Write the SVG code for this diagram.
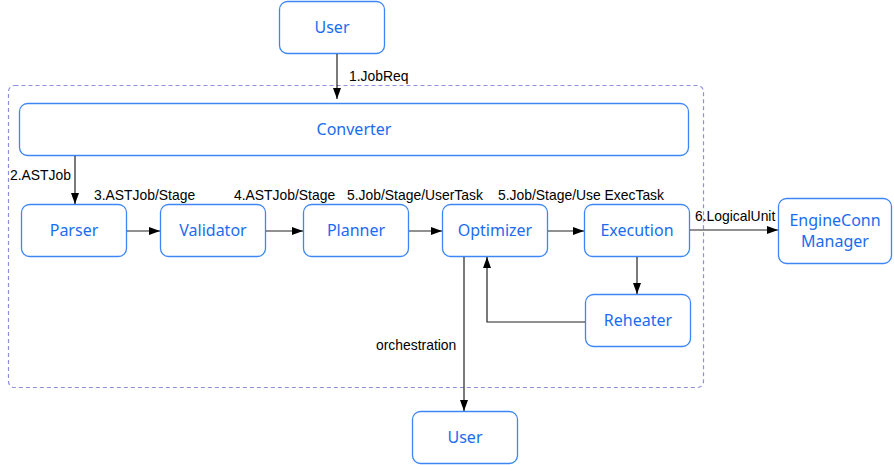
<svg xmlns="http://www.w3.org/2000/svg" width="894" height="465" viewBox="0 0 894 465">
<defs>
<style>
.node rect{fill:#fff;stroke:#3d86f5;stroke-width:1.3}
.node text{font-family:"Noto Sans","Liberation Sans",sans-serif;font-size:16px;fill:#1a6cf0;text-anchor:middle}
.lbl{font-family:"Liberation Sans",Arial,sans-serif;font-size:13.9px;fill:#000}
.edge{fill:none;stroke:#222;stroke-width:1.2;marker-end:url(#ah)}
</style>
<marker id="ah" viewBox="0 0 11 8" refX="11" refY="4" markerWidth="11" markerHeight="8" markerUnits="userSpaceOnUse" orient="auto">
<path d="M0,0 L11,4 L0,8 z" fill="#000"/>
</marker>
</defs>
<rect width="894" height="465" fill="#fff"/>
<rect id="container" x="8.5" y="85.5" width="695" height="302" rx="6" fill="none" stroke="#8f8fdc" stroke-width="1.2" stroke-dasharray="4,3"/>
<g id="nodes">
<g class="node" id="user-top"><rect x="279.5" y="1.5" width="105" height="52" rx="8"/><text x="332" y="33">User</text></g>
<g class="node" id="converter"><rect x="19.5" y="103.5" width="669" height="52" rx="8"/><text x="354" y="135">Converter</text></g>
<g class="node" id="parser"><rect x="21.5" y="204.5" width="105" height="52" rx="8"/><text x="74" y="236">Parser</text></g>
<g class="node" id="validator"><rect x="160.5" y="204.5" width="105" height="52" rx="8"/><text x="213" y="236">Validator</text></g>
<g class="node" id="planner"><rect x="303.5" y="204.5" width="105" height="52" rx="8"/><text x="356" y="236">Planner</text></g>
<g class="node" id="optimizer"><rect x="442.5" y="204.5" width="105" height="52" rx="8"/><text x="495" y="236">Optimizer</text></g>
<g class="node" id="execution"><rect x="584.5" y="204.5" width="105" height="52" rx="8"/><text x="637" y="236">Execution</text></g>
<g class="node" id="engineconn"><rect x="778.5" y="198.5" width="113" height="65" rx="8"/><text x="835" y="226">EngineConn</text><text x="835" y="247">Manager</text></g>
<g class="node" id="reheater"><rect x="585.5" y="294.5" width="105" height="52" rx="8"/><text x="638" y="326">Reheater</text></g>
<g class="node" id="user-bottom"><rect x="412.5" y="411.5" width="105" height="52" rx="8"/><text x="465" y="443">User</text></g>
</g>
<g id="connectors">
<path class="edge" d="M337,54 V99"/>
<path class="edge" d="M75,156 V204"/>
<path class="edge" d="M127,231 H160"/>
<path class="edge" d="M266,231 H303"/>
<path class="edge" d="M409,231 H442"/>
<path class="edge" d="M548,231 H584"/>
<path class="edge" d="M690,230 H778"/>
<path class="edge" d="M637,257 V294"/>
<path class="edge" d="M585,322 H487 V257"/>
<path class="edge" d="M464,257 V411"/>
</g>
<g id="labels">
<text class="lbl" x="349" y="81">1.JobReq</text>
<text class="lbl" x="10" y="180">2.ASTJob</text>
<text class="lbl" x="94" y="200">3.ASTJob/Stage</text>
<text class="lbl" x="234" y="200">4.ASTJob/Stage</text>
<text class="lbl" x="347" y="200">5.Job/Stage/UserTask</text>
<text class="lbl" x="498" y="200">5.Job/Stage/Use ExecTask</text>
<text class="lbl" x="695" y="221">6.LogicalUnit</text>
<text class="lbl" x="376" y="350">orchestration</text>
</g>
</svg>
